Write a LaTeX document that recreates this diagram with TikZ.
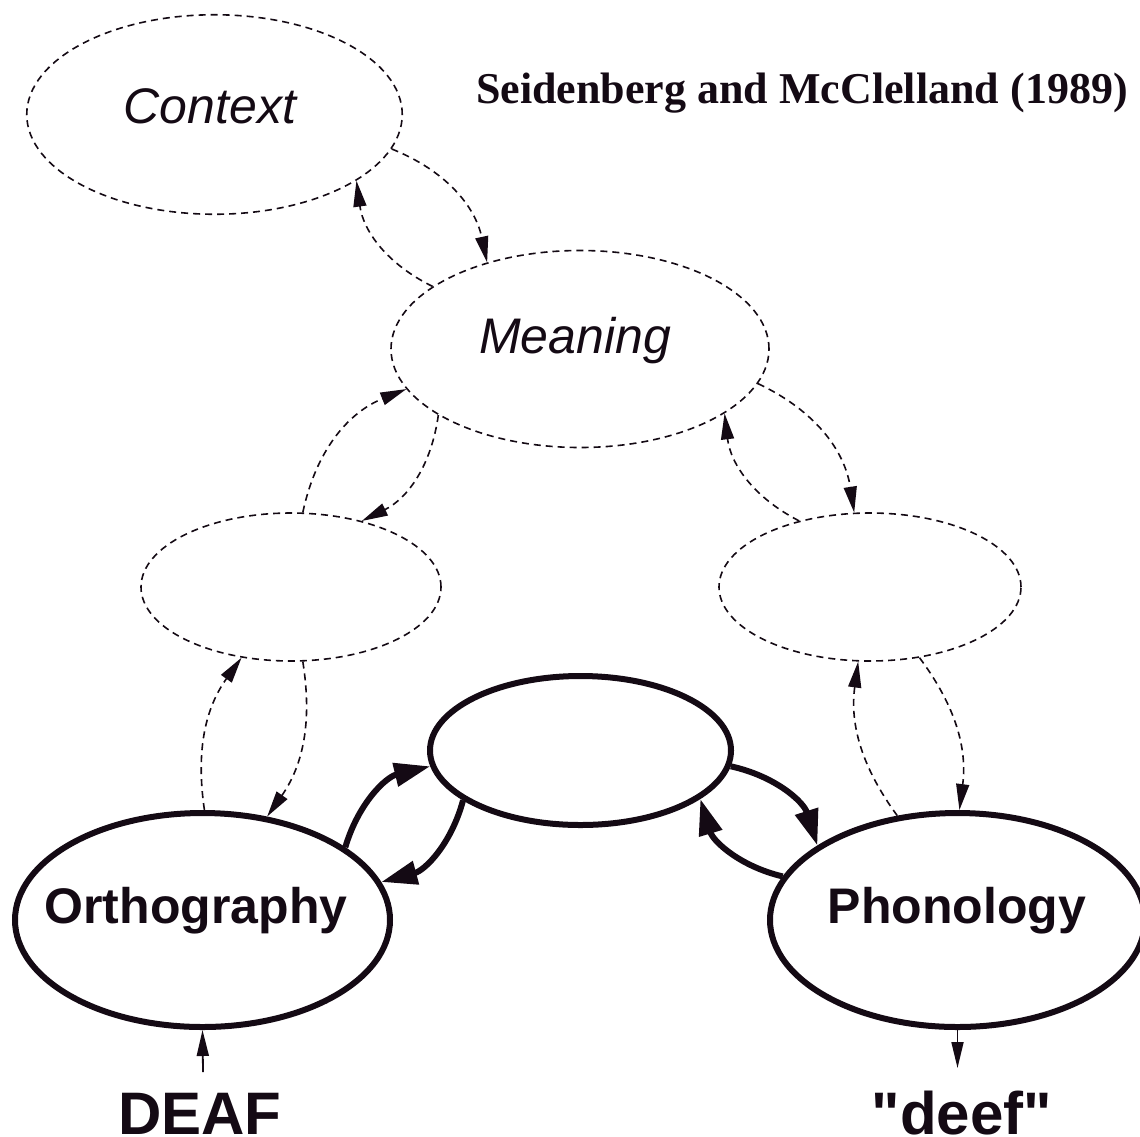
\documentclass[tikz,border=0pt]{standalone}
\usepackage{fontspec}
\setmainfont{Liberation Serif}
\newfontfamily\hv{Liberation Sans}
\usetikzlibrary{shapes.geometric,arrows.meta}
\definecolor{ink}{HTML}{140A14}
\tikzset{
  dell/.style={ellipse, draw=ink, line width=1.6pt, dash pattern=on 7pt off 5pt, inner sep=0pt},
  sell/.style={ellipse, draw=ink, line width=6pt, inner sep=0pt},
  darr/.style={-{Triangle[length=26pt,width=13pt]}, draw=ink, line width=1.6pt, dash pattern=on 7pt off 5pt},
  tarr/.style={-{Triangle[length=36pt,width=23pt]}, draw=ink, line width=6pt},
  larr/.style={-{Triangle[length=26pt,width=12pt]}, draw=ink, line width=1.8pt},
  itl/.style={font=\hv\itshape\fontsize{50}{60}\selectfont, text=ink, inner sep=0pt, anchor=base},
  bdl/.style={font=\hv\bfseries\fontsize{50}{60}\selectfont, text=ink, inner sep=0pt, anchor=base},
  big/.style={font=\hv\bfseries\fontsize{60}{70}\selectfont, text=ink, inner sep=0pt, anchor=base},
}
\begin{document}
\begin{tikzpicture}[x=1pt,y=-1pt]
\useasboundingbox (0,0) rectangle (1140,1136);
% ellipses
\node[dell, minimum width=375.5pt, minimum height=199.5pt] (ctx) at (214.5,114.5) {};
\node[dell, minimum width=378pt, minimum height=197pt] (mng) at (580,349) {};
\node[dell, minimum width=300pt, minimum height=148pt] (lh) at (291,587) {};
\node[dell, minimum width=302pt, minimum height=148pt] (rh) at (870,587) {};
\node[sell, minimum width=301pt, minimum height=149pt] (mid) at (580.5,750.5) {};
\node[sell, minimum width=375pt, minimum height=214pt] (ort) at (202.5,920) {};
\node[sell, minimum width=375pt, minimum height=214pt] (pho) at (957.5,920) {};
% texts
\node[itl] (ctxt) at (210,123) {Context};
\node[itl] (mngt) at (575,353) {Meaning};
\node[bdl] (ortt) at (196,923) {Orthography};
\node[bdl] (phot) at (957,923) {Phonology};
\node[font=\bfseries\fontsize{44}{53}\selectfont, text=ink, inner sep=0pt, anchor=base west] (title) at (476,103) {Seidenberg and McClelland (1989)};
\node[big] (deaf) at (200,1134) {DEAF};
\node[big] (deef) at (962,1134) {"deef"};
\coordinate (deafin) at (203,1072);
\coordinate (deefout) at (957.5,1068);
% dashed arrows
\draw[darr] (mng.157) to[bend left=28] (ctx.-25.6);
\draw[darr] (ctx.-11.6) to[bend left=28] (mng.137);
\draw[darr] (lh.81.5) to[bend left=28] (mng.-167.2);
\draw[darr] (mng.-155.2) to[bend left=28] (lh.43);
\draw[darr] (mng.-11.5) to[bend left=28] (rh.102.8);
\draw[darr] (rh.137.5) to[bend left=28] (mng.-24.9);
\draw[darr] (ort.89.5) to[bend left=22] (lh.-125);
\draw[darr] (lh.-81) to[bend left=22] (ort.58.2);
\draw[darr] (pho.120.6) to[bend left=22] (rh.-99.5);
\draw[darr] (rh.-55.6) to[bend left=22] (pho.89);
% thick arrows
\draw[tarr] (ort.27.7) to[bend left=30] (mid.-174.3);
\draw[tarr] (mid.-157.4) to[bend left=30] (ort.12.5);
\draw[tarr] (mid.-6.5) to[bend left=30] (pho.152);
\draw[tarr] (pho.166.7) to[bend left=30] (mid.-22.8);
% input/output
\draw[larr] (deafin) -- (ort.south);
\draw[larr] (pho.south) -- (deefout);
\end{tikzpicture}
\end{document}
